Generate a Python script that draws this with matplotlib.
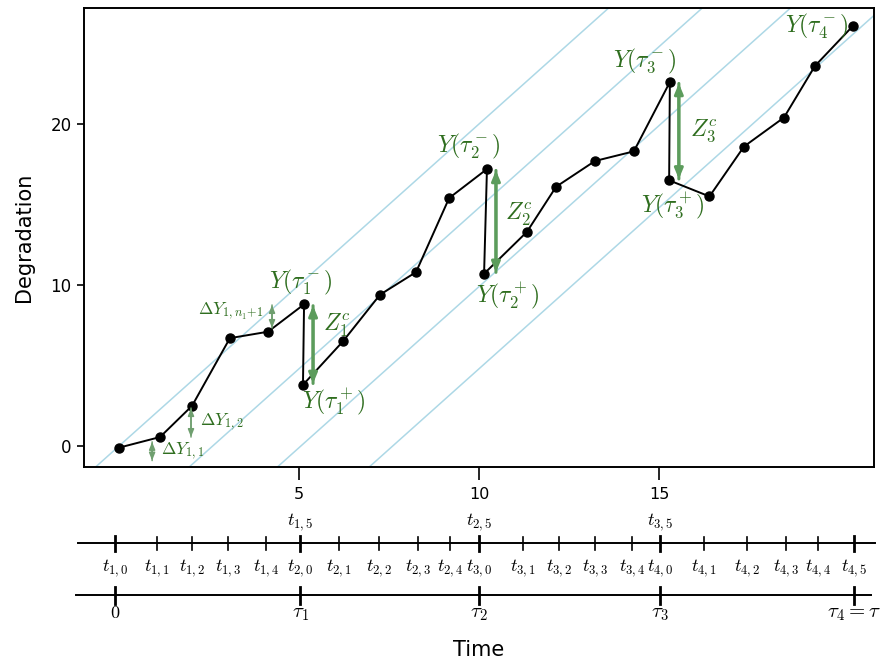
import numpy as np
import matplotlib.pyplot as plt

plt.rcParams['mathtext.fontset'] = 'cm'

# Degradation path (pre- and post-jump points included, in drawing order)
t_path = [0, 1.14, 2.03, 3.08, 4.14, 5.14, 5.11, 6.22, 7.25, 8.25, 9.17, 10.22,
          10.14, 11.33, 12.14, 13.22, 14.3, 15.3, 15.28, 16.4, 17.36, 18.47, 19.33, 20.39]
y_path = [-0.1, 0.56, 2.5, 6.7, 7.1, 8.8, 3.8, 6.5, 9.4, 10.8, 15.4, 17.2,
          10.7, 13.3, 16.1, 17.7, 18.3, 22.6, 16.5, 15.5, 18.6, 20.4, 23.6, 26.1]

# indices of tau^- / tau^+ points
jump_pre = [5, 11, 17]
jump_post = [6, 12, 18]

# background reference lines  y = 2 t - c
ref_slope = 2.0
ref_offsets = [0, 5.2, 10.1, 15.2]

# timeline ticks
tl_times = [-0.11, 1.06, 2.03, 3.03, 4.08, 5.03, 6.11, 7.22, 8.31, 9.19, 10.0,
            11.22, 12.22, 13.22, 14.25, 15.03, 16.25, 17.44, 18.53, 19.42, 20.42]
tl_below = [r'$t_{1,0}$', r'$t_{1,1}$', r'$t_{1,2}$', r'$t_{1,3}$', r'$t_{1,4}$',
            r'$t_{2,0}$', r'$t_{2,1}$', r'$t_{2,2}$', r'$t_{2,3}$', r'$t_{2,4}$',
            r'$t_{3,0}$', r'$t_{3,1}$', r'$t_{3,2}$', r'$t_{3,3}$', r'$t_{3,4}$',
            r'$t_{4,0}$', r'$t_{4,1}$', r'$t_{4,2}$', r'$t_{4,3}$', r'$t_{4,4}$', r'$t_{4,5}$']
tl_above = {5: r'$t_{1,5}$', 10: r'$t_{2,5}$', 15: r'$t_{3,5}$'}
tau_idx = [0, 5, 10, 15, 20]
tau_labels = [r'$0$', r'$\tau_1$', r'$\tau_2$', r'$\tau_3$', r'$\tau_4 = \tau$']

txt_green = '#2f6e1f'
arr_green = '#5c9c5c'
light_green = '#6f9f6f'

W, H = 888, 669
fig = plt.figure(figsize=(W / 100, H / 100), dpi=100)
ax = fig.add_axes([84 / W, 1 - 467 / H, 790 / W, 459 / H])
xlim = (-0.972, 20.97)
ax.set_xlim(*xlim)
ax.set_ylim(-1.3, 27.2)

xx = np.array(xlim)
for c in ref_offsets:
    ax.plot(xx, ref_slope * xx - c, color='#add8e6', lw=1.1, zorder=1)

ax.plot(t_path, y_path, color='black', lw=1.4, zorder=3)
ax.plot(t_path, y_path, 'o', color='black', ms=6.5, zorder=4)

for s in ax.spines.values():
    s.set_linewidth(1.4)
ax.set_xticks([5, 10, 15])
ax.set_yticks([0, 10, 20])
ax.tick_params(axis='x', length=9.5, width=1.2, pad=5, labelsize=11.5)
ax.tick_params(axis='y', length=5, width=1.2, pad=4, labelsize=12)
ax.set_ylabel('Degradation', fontsize=15, labelpad=12)

# jump annotations
z_shift = [(0.28, 1.2), (0.25, 0.4), (0.3, 0.0)]
head = '-|>,head_length=0.6,head_width=0.25'
for k, (ip, iq) in enumerate(zip(jump_pre, jump_post)):
    n = k + 1
    xa = t_path[ip] + 0.25
    for a, b in [(ip, iq), (iq, ip)]:
        ax.annotate('', xy=(xa, y_path[a]), xytext=(xa, y_path[b]),
                    arrowprops=dict(arrowstyle=head, color=arr_green, lw=2.2,
                                    shrinkA=1, shrinkB=1), zorder=5)
    ax.text(xa + z_shift[k][0], (y_path[ip] + y_path[iq]) / 2 + z_shift[k][1],
            r'$Z_%d^c$' % n, color=txt_green, fontsize=17, va='center', ha='left')
pre_off = [(-0.1, 1.35), (-0.5, 1.4), (-0.7, 1.25)]
post_off = [(0.85, -1.1), (0.65, -1.4), (0.1, -1.6)]
for k, (ip, iq) in enumerate(zip(jump_pre, jump_post)):
    n = k + 1
    ax.text(t_path[ip] + pre_off[k][0], y_path[ip] + pre_off[k][1],
            r'$Y(\tau_%d^-)$' % n, color=txt_green, fontsize=17, ha='center', va='center')
    ax.text(t_path[iq] + post_off[k][0], y_path[iq] + post_off[k][1],
            r'$Y(\tau_%d^+)$' % n, color=txt_green, fontsize=17, ha='center', va='center')
ax.text(t_path[-1] - 1.0, y_path[-1] - 0.05, r'$Y(\tau_4^-)$', color=txt_green,
        fontsize=17, ha='center', va='center')

# increments: (from point, to point, x, low shift, high shift, label, align)
incs = [(0, 1, 0.92, -0.8, -0.3, r'$\Delta Y_{1,1}$', 'left'),
        (1, 2, 2.0, 0.0, -0.14, r'$\Delta Y_{1,2}$', 'left'),
        (4, 5, 4.25, 0.23, -0.04, r'$\Delta Y_{1,n_1\!+\!1}$', 'right')]
for i0, i1, xa, d0, d1, lab, ha in incs:
    ya, yb = y_path[i0] + d0, y_path[i1] + d1
    for a, b in [(ya, yb), (yb, ya)]:
        ax.annotate('', xy=(xa, b), xytext=(xa, a),
                    arrowprops=dict(arrowstyle='-|>,head_length=0.45,head_width=0.18',
                                    color=light_green, lw=1.1, shrinkA=0, shrinkB=0),
                    zorder=5)
    xt = xa + 0.25 if ha == 'left' else xa - 0.22
    yt = (ya + yb) / 2 if ha == 'left' else yb - 0.4
    ax.text(xt, yt, lab, color=txt_green, fontsize=12.5, ha=ha, va='center')

# timeline below
tl = fig.add_axes([84 / W, 0, 790 / W, 169 / H])
tl.set_xlim(*xlim)
tl.set_ylim(669, 500)
tl.axis('off')
tl.plot([-1.14, 21.0], [543, 543], color='black', lw=1.4, clip_on=False)
tl.plot([-1.2, 20.9], [595, 595], color='black', lw=1.4, clip_on=False)
for i, tt in enumerate(tl_times):
    if i in tau_idx:
        tl.plot([tt, tt], [536, 551], color='black', lw=2.0, clip_on=False)
    else:
        tl.plot([tt, tt], [537, 550], color='black', lw=1.2, clip_on=False)
    tl.text(tt, 568, tl_below[i], fontsize=13, ha='center', va='center')
    if i in tl_above:
        tl.text(tt, 522, tl_above[i], fontsize=13, ha='center', va='center')
for j, i in enumerate(tau_idx):
    tl.plot([tl_times[i], tl_times[i]], [587, 604], color='black', lw=2.0, clip_on=False)
    fs = 13 if j == 0 else 15
    tl.text(tl_times[i], 613, tau_labels[j], fontsize=fs, ha='center', va='center')

fig.text(479 / W, 1 - 650 / H, 'Time', fontsize=15, ha='center', va='center')

fig.savefig('out.png', dpi=100)
